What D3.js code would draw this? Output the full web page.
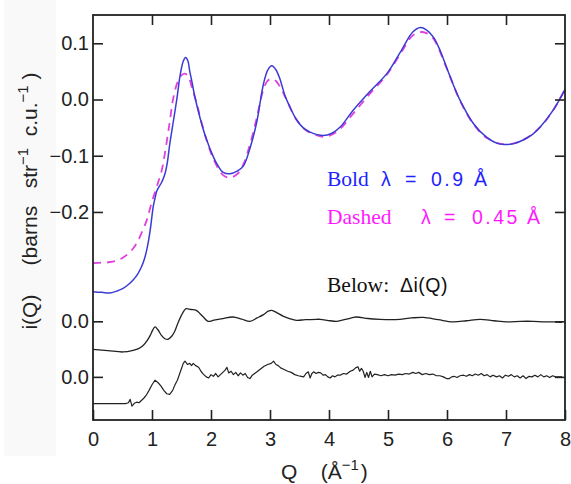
<!DOCTYPE html>
<html>
<head>
<meta charset="utf-8">
<script src="https://cdn.jsdelivr.net/npm/d3@7"></script>
<style>
  html, body { margin: 0; padding: 0; background: #fff; }
  svg { display: block; }
  text { white-space: pre; }
</style>
</head>
<body>
<svg id="chart" width="571" height="484"></svg>
<script>
// Total scattering i(Q) at two wavelengths, plus the two difference curves Δi(Q)

// Solid curve, λ = 0.9 Å
const boldQ = [0, 0.15, 0.29, 0.42, 0.51, 0.6, 0.68, 0.76, 0.82, 0.87, 0.91, 0.94, 0.97, 1.0, 1.02, 1.05, 1.08, 1.12, 1.16, 1.22, 1.26, 1.3, 1.36, 1.42, 1.48, 1.53, 1.57, 1.61, 1.64, 1.68, 1.72, 1.81, 1.92, 2.04, 2.12, 2.2, 2.32, 2.45, 2.55, 2.66, 2.77, 2.89, 2.96, 3.03, 3.1, 3.17, 3.25, 3.34, 3.45, 3.56, 3.68, 3.9, 4.05, 4.19, 4.41, 4.69, 4.98, 5.23, 5.42, 5.55, 5.65, 5.77, 5.88, 5.99, 6.1, 6.22, 6.45, 6.67, 6.85, 6.98, 7.15, 7.29, 7.45, 7.58, 7.8, 8.0];
const boldI = [-0.342, -0.343, -0.344, -0.340, -0.336, -0.329, -0.321, -0.310, -0.298, -0.284, -0.268, -0.252, -0.232, -0.207, -0.191, -0.176, -0.163, -0.155, -0.148, -0.132, -0.112, -0.080, -0.040, 0.000, 0.045, 0.068, 0.0745, 0.068, 0.050, 0.030, 0.008, -0.031, -0.070, -0.102, -0.118, -0.129, -0.132, -0.127, -0.118, -0.087, -0.043, 0.028, 0.052, 0.060, 0.053, 0.036, 0.008, -0.014, -0.036, -0.050, -0.058, -0.064, -0.060, -0.049, -0.019, 0.014, 0.046, 0.088, 0.120, 0.128, 0.124, 0.111, 0.088, 0.058, 0.028, -0.001, -0.043, -0.067, -0.078, -0.080, -0.078, -0.072, -0.062, -0.049, -0.019, 0.018];

// Dashed curve, λ = 0.45 Å
const dashQ = [0, 0.15, 0.29, 0.42, 0.51, 0.6, 0.68, 0.76, 0.82, 0.91, 0.99, 1.08, 1.16, 1.22, 1.3, 1.36, 1.43, 1.5, 1.56, 1.62, 1.68, 1.76, 1.85, 1.95, 2.05, 2.2, 2.32, 2.45, 2.55, 2.66, 2.77, 2.88, 2.95, 3.02, 3.1, 3.2, 3.3, 3.45, 3.6, 3.8, 3.95, 4.15, 4.41, 4.69, 4.98, 5.23, 5.42, 5.55, 5.65, 5.77, 5.99, 6.22, 6.45, 6.67, 6.98, 7.29, 7.58, 7.8, 8.0];
const dashI = [-0.291, -0.290, -0.289, -0.286, -0.281, -0.274, -0.265, -0.252, -0.238, -0.215, -0.185, -0.155, -0.128, -0.095, -0.040, 0.002, 0.030, 0.043, 0.046, 0.040, 0.020, -0.008, -0.045, -0.080, -0.108, -0.134, -0.139, -0.132, -0.115, -0.080, -0.035, 0.015, 0.032, 0.037, 0.033, 0.017, -0.005, -0.036, -0.054, -0.064, -0.066, -0.056, -0.025, 0.010, 0.044, 0.085, 0.114, 0.120, 0.118, 0.108, 0.057, -0.002, -0.044, -0.068, -0.080, -0.072, -0.049, -0.019, 0.018];

// Upper Δi(Q) trace and its vertical offset
const diff1Offset = -0.3945;
const diff1Q = [0, 0.25, 0.51, 0.68, 0.78, 0.85, 0.92, 0.97, 1.01, 1.05, 1.1, 1.16, 1.22, 1.27, 1.33, 1.38, 1.44, 1.5, 1.55, 1.58, 1.66, 1.75, 1.81, 1.87, 1.95, 2.05, 2.2, 2.37, 2.52, 2.66, 2.78, 2.89, 2.97, 3.03, 3.12, 3.22, 3.33, 3.45, 3.6, 3.79, 3.85, 4.02, 4.13, 4.3, 4.46, 4.66, 4.86, 5.05, 5.2, 5.4, 5.6, 5.85, 6.1, 6.33, 6.56, 6.8, 7.01, 7.25, 7.46, 7.65, 7.8, 7.95];
const diff1 = [-0.050, -0.052, -0.0545, -0.0515, -0.048, -0.043, -0.034, -0.025, -0.016, -0.010, -0.015, -0.025, -0.031, -0.032, -0.027, -0.019, -0.003, 0.011, 0.020, 0.0226, 0.021, 0.0196, 0.014, 0.0077, 0.000, 0.002, 0.0048, 0.0077, 0.004, 0.000, 0.006, 0.012, 0.018, 0.0196, 0.015, 0.0094, 0.005, 0.0018, 0.003, 0.0036, 0.0036, 0.001, 0.000, 0.004, 0.0077, 0.005, 0.0036, 0.003, 0.0036, 0.006, 0.007, 0.003, -0.001, 0.001, 0.0036, 0.001, -0.001, 0.000, 0.000, -0.001, -0.001, -0.002];

// Lower Δi(Q) trace and its vertical offset
const diff2Offset = -0.4933;
const diff2Q = [0, 0.55, 0.6, 0.63, 0.66, 0.7, 0.74, 0.78, 0.82, 0.86, 0.9, 0.95, 1.0, 1.05, 1.1, 1.15, 1.2, 1.25, 1.3, 1.35, 1.39, 1.43, 1.47, 1.5, 1.53, 1.56, 1.6, 1.64, 1.67, 1.7, 1.74, 1.79, 1.83, 1.87, 1.92, 1.96, 2.0, 2.04, 2.08, 2.12, 2.16, 2.2, 2.24, 2.27, 2.3, 2.34, 2.38, 2.42, 2.46, 2.5, 2.54, 2.58, 2.62, 2.66, 2.7, 2.74, 2.78, 2.84, 2.9, 2.96, 3.02, 3.06, 3.1, 3.14, 3.18, 3.24, 3.3, 3.36, 3.42, 3.48, 3.53, 3.57, 3.61, 3.65, 3.68, 3.71, 3.74, 3.78, 3.82, 3.86, 3.9, 3.94, 3.98, 4.02, 4.06, 4.1, 4.14, 4.19, 4.24, 4.3, 4.36, 4.41, 4.45, 4.49, 4.52, 4.55, 4.58, 4.61, 4.64, 4.67, 4.7, 4.73, 4.77, 4.82, 4.88, 4.94, 5.0, 5.06, 5.12, 5.18, 5.24, 5.3, 5.36, 5.42, 5.47, 5.52, 5.58, 5.64, 5.7, 5.76, 5.82, 5.88, 5.94, 5.99, 6.04, 6.08, 6.12, 6.17, 6.22, 6.28, 6.33, 6.38, 6.43, 6.48, 6.53, 6.58, 6.63, 6.68, 6.73, 6.78, 6.84, 6.89, 6.94, 6.99, 7.04, 7.09, 7.14, 7.19, 7.24, 7.29, 7.34, 7.39, 7.44, 7.49, 7.54, 7.59, 7.64, 7.69, 7.74, 7.79, 7.84, 7.9, 7.95];
const diff2 = [-0.0475, -0.0475, -0.046, -0.040, -0.052, -0.047, -0.045, -0.046, -0.042, -0.038, -0.033, -0.024, -0.014, -0.006, -0.010, -0.016, -0.024, -0.030, -0.031, -0.024, -0.014, -0.006, 0.006, 0.015, 0.024, 0.028, 0.022, 0.024, 0.020, 0.024, 0.020, 0.017, 0.010, 0.005, 0.000, -0.002, 0.004, 0.001, 0.006, 0.000, 0.004, 0.008, 0.012, 0.017, 0.007, 0.010, 0.004, 0.008, 0.002, 0.007, 0.003, 0.006, -0.001, -0.003, 0.003, 0.006, 0.009, 0.014, 0.019, 0.022, 0.024, 0.028, 0.022, 0.020, 0.016, 0.013, 0.010, 0.008, 0.004, 0.002, 0.001, 0.000, 0.006, 0.009, -0.002, 0.006, 0.009, 0.006, 0.008, 0.007, 0.003, 0.004, 0.000, -0.002, 0.002, 0.000, 0.003, 0.003, 0.006, 0.005, 0.010, 0.012, 0.016, 0.018, 0.010, 0.015, 0.010, -0.001, 0.008, -0.001, 0.010, 0.000, 0.005, 0.004, 0.002, 0.004, 0.002, 0.004, 0.003, 0.005, 0.004, 0.006, 0.005, 0.008, 0.006, 0.008, 0.004, 0.006, 0.004, 0.005, 0.002, 0.002, 0.000, -0.003, -0.003, 0.000, 0.001, -0.001, 0.002, 0.003, 0.001, 0.004, 0.002, 0.005, 0.003, 0.006, 0.002, 0.004, 0.000, 0.003, 0.000, 0.002, -0.002, 0.003, 0.001, 0.004, 0.000, 0.002, -0.002, 0.002, -0.003, 0.001, 0.000, 0.003, 0.000, 0.004, 0.000, 0.002, -0.001, 0.002, 0.000, 0.000, 0.000];

const xTicks = [0, 1, 2, 3, 4, 5, 6, 7, 8];
const yTicks = [0.1, 0.0, -0.1, -0.2];

const blueLine = "#3b3bd4";
const magentaLine = "#e040e0";
const blueText = "#1f1fff";
const magentaText = "#ff19ff";
const ink = "#222";

const svg = d3.select("#chart");
const plot = { left: 93, right: 565, top: 15, bottom: 420 };

// faint panel behind the axis title
svg.append("rect").attr("x", 4).attr("y", 0).attr("width", 52).attr("height", 456)
  .attr("fill", "#f9f9f9");

const x = d3.scaleLinear().domain([0, 8]).range([plot.left, plot.right]);
const y = d3.scaleLinear().domain([-0.570, 0.1503]).range([plot.bottom, plot.top]);

const sansFont = "'Liberation Sans', Arial, Helvetica, sans-serif";
const serifFont = "'Liberation Serif', 'Times New Roman', serif";

// curves
const smooth = d3.line().x(d => x(d[0])).y(d => y(d[1])).curve(d3.curveCatmullRom.alpha(0.5));
const rough = d3.line().x(d => x(d[0])).y(d => y(d[1])).curve(d3.curveLinear);

const g = svg.append("g");
g.append("path").datum(dashQ.map((q, i) => [q, dashI[i]]))
  .attr("d", smooth).attr("fill", "none")
  .attr("stroke", magentaLine).attr("stroke-width", 1.8).attr("stroke-dasharray", "8,6");
g.append("path").datum(boldQ.map((q, i) => [q, boldI[i]]))
  .attr("d", smooth).attr("fill", "none")
  .attr("stroke", blueLine).attr("stroke-width", 1.5);
g.append("path").datum(diff1Q.map((q, i) => [q, diff1[i] + diff1Offset]))
  .attr("d", smooth).attr("fill", "none")
  .attr("stroke", ink).attr("stroke-width", 1.3);
g.append("path").datum(diff2Q.map((q, i) => [q, diff2[i] + diff2Offset]))
  .attr("d", rough).attr("fill", "none")
  .attr("stroke", ink).attr("stroke-width", 1.2).attr("stroke-linejoin", "round");

// axes, ticks pointing inward
function styleAxis(sel) {
  sel.select(".domain").remove();
  sel.selectAll(".tick line").attr("stroke", ink).attr("stroke-width", 1.6);
  sel.selectAll(".tick text").attr("fill", ink).style("font-family", sansFont).style("font-size", "20px");
}
const fmt = d3.format(".1f");
svg.append("g").attr("transform", `translate(0,${plot.bottom})`)
  .call(d3.axisBottom(x).tickValues(xTicks).tickFormat(d3.format("d")).tickSize(-10).tickPadding(12))
  .call(styleAxis);
svg.append("g").attr("transform", `translate(0,${plot.top})`)
  .call(d3.axisTop(x).tickValues(xTicks.slice(1, -1)).tickFormat("").tickSize(-10))
  .call(styleAxis);
svg.append("g").attr("transform", `translate(${plot.left},0)`)
  .call(d3.axisLeft(y).tickValues(yTicks).tickFormat(fmt).tickSize(-10).tickPadding(4))
  .call(styleAxis);
svg.append("g").attr("transform", `translate(${plot.left},0)`)
  .call(d3.axisLeft(y).tickValues([diff1Offset, diff2Offset]).tickFormat(() => "0.0").tickSize(-10).tickPadding(4))
  .call(styleAxis);
svg.append("g").attr("transform", `translate(${plot.right},0)`)
  .call(d3.axisRight(y).tickValues(yTicks.concat([diff1Offset, diff2Offset])).tickFormat("").tickSize(-10))
  .call(styleAxis);

// frame
svg.append("rect").attr("x", plot.left).attr("y", plot.top)
  .attr("width", plot.right - plot.left).attr("height", plot.bottom - plot.top)
  .attr("fill", "none").attr("stroke", ink).attr("stroke-width", 1.8);

// x-axis title
const xt = svg.append("text").attr("x", 281).attr("y", 479)
  .style("font-family", sansFont).style("font-size", "21px").attr("fill", ink);
xt.append("tspan").text("Q    (Å");
xt.append("tspan").attr("dy", -9).style("font-size", "15px").text("−1");
xt.append("tspan").attr("dy", 9).attr("dx", 2).text(")");

// y-axis title
const yt = svg.append("text").attr("transform", "translate(37,201) rotate(-90)")
  .attr("text-anchor", "middle")
  .style("font-family", sansFont).style("font-size", "21px").attr("fill", ink);
yt.append("tspan").text("i(Q)     (barns   str");
yt.append("tspan").attr("dy", -9).style("font-size", "15px").text("−1");
yt.append("tspan").attr("dy", 9).text("  c.u.");
yt.append("tspan").attr("dy", -9).style("font-size", "15px").text("−1");
yt.append("tspan").attr("dy", 9).text(" )");

// key
const keyBold = ["Bold", "λ", "=", "0.9", "Å"];
const keyDashed = ["Dashed", "λ", "=", "0.45", "Å"];
const keyBelow = ["Below:", "Δi(Q)"];

function keyRow(words, xs, baseline, color, spacing) {
  words.forEach((w, i) => {
    svg.append("text").attr("x", xs[i]).attr("y", baseline)
      .attr("fill", color)
      .style("font-family", i === 0 ? serifFont : sansFont)
      .style("font-size", i === 0 ? "21.5px" : "19.5px")
      .style("letter-spacing", i === 0 ? "0px" : spacing)
      .text(w);
  });
}
keyRow(keyBold, [327, 381, 405, 431, 474], 186, blueText, "2.5px");
keyRow(keyDashed, [327, 421, 444, 472, 527], 224, magentaText, "2.5px");
keyRow(keyBelow, [327, 400], 292, "#111", "0.5px");
</script>
</body>
</html>
